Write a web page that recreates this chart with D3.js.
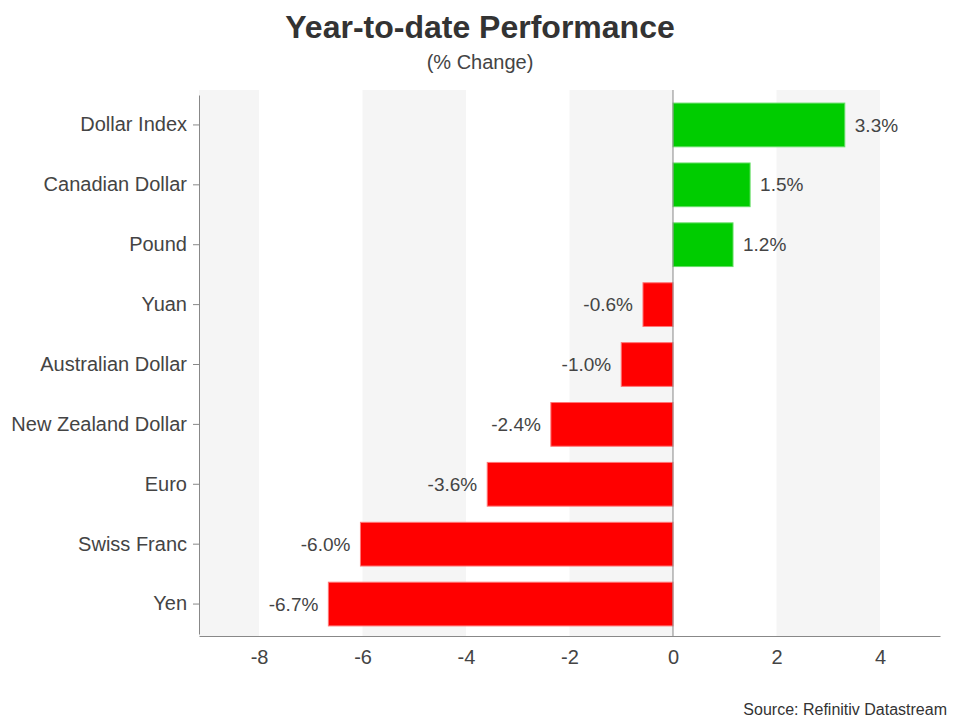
<!DOCTYPE html>
<html>
<head>
<meta charset="utf-8">
<script src="https://cdn.jsdelivr.net/npm/d3@7"></script>
<style>
  body { margin: 0; background: #fff; }
  text { font-family: "Liberation Sans", Arial, sans-serif; }
</style>
</head>
<body>
<svg id="chart"></svg>
<script>
const currencies = ["Dollar Index", "Canadian Dollar", "Pound", "Yuan", "Australian Dollar",
  "New Zealand Dollar", "Euro", "Swiss Franc", "Yen"];
const changes = [3.32, 1.49, 1.16, -0.58, -1.0, -2.36, -3.59, -6.04, -6.66];
const xTicks = [-8, -6, -4, -2, 0, 2, 4];
const bandEdges = [-10, -8, -6, -4, -2, 0, 2, 4, 6];

const data = currencies.map((c, i) => ({ name: c, value: changes[i] }));

const svg = d3.select("#chart")
  .attr("width", 960)
  .attr("height", 720);

const margin = { top: 90, right: 20, bottom: 84, left: 199 };
const width = 960 - margin.left - margin.right;
const height = 720 - margin.top - margin.bottom;

const x = d3.scaleLinear()
  .domain([-9.16, 5.16])
  .range([0, width]);

const y = d3.scaleBand()
  .domain(currencies)
  .range([5, height - 2])
  .paddingInner(0.27)
  .paddingOuter(0.135);

const g = svg.append("g")
  .attr("transform", `translate(${margin.left},${margin.top})`);

// alternating background stripes
const clip = v => Math.max(x.domain()[0], Math.min(x.domain()[1], v));
g.selectAll(".band")
  .data(d3.pairs(bandEdges).filter((p, i) => i % 2 === 0))
  .enter()
  .append("rect")
  .attr("class", "band")
  .attr("x", d => x(clip(d[0])))
  .attr("width", d => x(clip(d[1])) - x(clip(d[0])))
  .attr("y", 0)
  .attr("height", height)
  .attr("fill", "#f5f5f5");

// bars
g.selectAll(".bar")
  .data(data)
  .enter()
  .append("rect")
  .attr("class", "bar")
  .attr("x", d => x(Math.min(0, d.value)))
  .attr("width", d => Math.abs(x(d.value) - x(0)))
  .attr("y", d => y(d.name))
  .attr("height", y.bandwidth())
  .attr("fill", d => d.value >= 0 ? "#00cc00" : "#ff0000")
  .attr("stroke", d => d.value >= 0 ? "#66dd66" : "#ff7777")
  .attr("stroke-width", 1);

// zero line
g.append("line")
  .attr("x1", x(0)).attr("x2", x(0))
  .attr("y1", 0).attr("y2", height)
  .attr("stroke", "#888")
  .attr("stroke-width", 1);

// value labels
g.selectAll(".bar-label")
  .data(data)
  .enter()
  .append("text")
  .attr("class", "bar-label")
  .attr("x", d => d.value >= 0 ? x(d.value) + 10 : x(d.value) - 10)
  .attr("y", d => y(d.name) + y.bandwidth() / 2)
  .attr("dy", "0.35em")
  .attr("text-anchor", d => d.value >= 0 ? "start" : "end")
  .style("font-size", "19px")
  .style("fill", "#444")
  .text(d => `${d.value.toFixed(1)}%`);

// x axis
const xAxis = g.append("g")
  .attr("class", "axis x-axis")
  .attr("transform", `translate(0, ${height})`)
  .call(d3.axisBottom(x).tickValues(xTicks).tickSize(0).tickPadding(14)
    .tickFormat(d => String(d)));
xAxis.select(".domain").attr("stroke", "#888");
xAxis.selectAll("text")
  .style("font-size", "20px")
  .style("fill", "#444");

// y axis
const yAxis = g.append("g")
  .attr("class", "axis y-axis")
  .call(d3.axisLeft(y).tickSize(6).tickSizeOuter(0).tickPadding(6));
yAxis.select(".domain").attr("stroke", "#888");
yAxis.selectAll(".tick line").attr("stroke", "#888");
yAxis.selectAll("text")
  .style("font-size", "20px")
  .style("fill", "#444");

// titles
svg.append("text")
  .attr("x", 480)
  .attr("y", 38)
  .attr("text-anchor", "middle")
  .style("font-size", "32px")
  .style("font-weight", "bold")
  .style("fill", "#333")
  .text("Year-to-date Performance");

svg.append("text")
  .attr("x", 480)
  .attr("y", 69)
  .attr("text-anchor", "middle")
  .style("font-size", "20px")
  .style("fill", "#444")
  .text("(% Change)");

svg.append("text")
  .attr("x", 947)
  .attr("y", 715)
  .attr("text-anchor", "end")
  .style("font-size", "16px")
  .style("fill", "#333")
  .text("Source: Refinitiv Datastream");
</script>
</body>
</html>
